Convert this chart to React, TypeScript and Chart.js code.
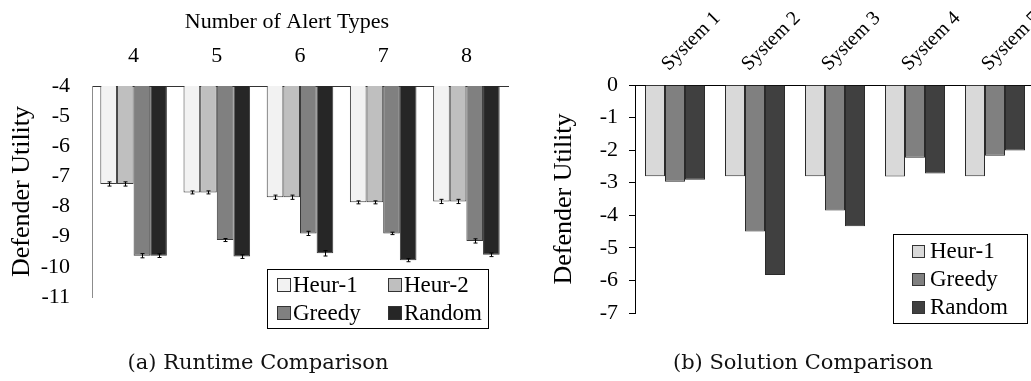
import React, { useEffect, useRef } from "react";
import { Chart, registerables } from "chart.js";

Chart.register(...registerables);

// ---------- Data: (a) Runtime Comparison ----------
const alertTypes = ["4", "5", "6", "7", "8"];
const alertAxisTitle = "Number of Alert Types";
const heur1A = [-7.25, -7.53, -7.69, -7.86, -7.83];
const heur2A = [-7.25, -7.53, -7.69, -7.86, -7.83];
const greedyA = [-9.63, -9.11, -8.89, -8.89, -9.14];
const randomA = [-9.63, -9.66, -9.55, -9.78, -9.6];
const heur1ErrA = [0.07, 0.05, 0.07, 0.05, 0.07];
const heur2ErrA = [0.07, 0.05, 0.07, 0.05, 0.07];
const greedyErrA = [0.07, 0.05, 0.07, 0.04, 0.07];
const randomErrA = [0.06, 0.06, 0.09, 0.05, 0.06];
const yTicksA = [-4, -5, -6, -7, -8, -9, -10, -11];

// ---------- Data: (b) Solution Comparison ----------
const systems = ["System 1", "System 2", "System 3", "System 4", "System 5"];
const heur1B = [-2.8, -2.8, -2.8, -2.81, -2.8];
const greedyB = [-2.97, -4.5, -3.85, -2.23, -2.17];
const randomB = [-2.91, -5.83, -4.34, -2.72, -2.01];
const yTicksB = [0, -1, -2, -3, -4, -5, -6, -7];

const yTitle = "Defender Utility";
const captionA = "(a) Runtime Comparison";
const captionB = "(b) Solution Comparison";

const SERIF = "'Liberation Serif', 'Times New Roman', serif";

const errorBarPlugin = {
  id: "errorBars",
  afterDatasetsDraw(chart: any) {
    const ctx = chart.ctx;
    const ys = chart.scales.y;
    chart.data.datasets.forEach((ds: any, i: number) => {
      if (!ds.errors) return;
      const meta = chart.getDatasetMeta(i);
      meta.data.forEach((bar: any, j: number) => {
        const v = ds.data[j];
        const e = ds.errors[j];
        const x = Math.round(bar.x) + 0.5;
        const y1 = ys.getPixelForValue(v + e);
        const y2 = ys.getPixelForValue(v - e);
        ctx.save();
        ctx.strokeStyle = "#000";
        ctx.lineWidth = 1;
        ctx.beginPath();
        ctx.moveTo(x, y1);
        ctx.lineTo(x, y2);
        ctx.moveTo(x - 2, y1);
        ctx.lineTo(x + 2, y1);
        ctx.moveTo(x - 2, y2);
        ctx.lineTo(x + 2, y2);
        ctx.stroke();
        ctx.restore();
      });
    });
  },
};

const boxLegendPlugin = {
  id: "boxLegend",
  afterDraw(chart: any, _args: any, o: any) {
    if (!o || !o.display) return;
    const ctx = chart.ctx;
    ctx.save();
    ctx.fillStyle = "#fff";
    ctx.fillRect(o.x, o.y, o.width, o.height);
    ctx.strokeStyle = "#000";
    ctx.lineWidth = 1;
    ctx.strokeRect(o.x + 0.5, o.y + 0.5, o.width, o.height);
    ctx.font = `${o.fontSize}px ${SERIF}`;
    ctx.textBaseline = "middle";
    ctx.textAlign = "left";
    chart.data.datasets.forEach((ds: any, i: number) => {
      const col = i % o.cols;
      const row = Math.floor(i / o.cols);
      const sx = o.x + o.padX + col * o.colWidth;
      const cy = o.y + o.padY + row * o.rowHeight + o.rowHeight / 2;
      const s = o.swatch;
      ctx.fillStyle = ds.backgroundColor;
      ctx.fillRect(sx, Math.round(cy - s / 2), s, s);
      ctx.strokeStyle = "#333";
      ctx.strokeRect(sx + 0.5, Math.round(cy - s / 2) + 0.5, s - 1, s - 1);
      ctx.fillStyle = "#000";
      ctx.fillText(ds.label, sx + s + o.gap, cy + 1);
    });
    ctx.restore();
  },
};

const topTitlePlugin = {
  id: "topTitle",
  afterDraw(chart: any, _args: any, o: any) {
    if (!o || !o.text) return;
    const ctx = chart.ctx;
    ctx.save();
    ctx.font = `${o.fontSize}px ${SERIF}`;
    ctx.fillStyle = "#000";
    ctx.textAlign = "center";
    ctx.textBaseline = "alphabetic";
    ctx.fillText(o.text, o.x, o.y);
    ctx.restore();
  },
};

function makeLeft(canvas: HTMLCanvasElement) {
  const mk = (label: string, data: number[], errors: number[], color: string) => ({
    label,
    data,
    errors,
    backgroundColor: color,
    borderColor: "#3a3a3a",
    borderWidth: 1,
    categoryPercentage: 0.8,
    barPercentage: 1.0,
  });
  return new Chart(canvas, {
    type: "bar",
    data: {
      labels: alertTypes,
      datasets: [
        mk("Heur-1", heur1A, heur1ErrA, "#f2f2f2"),
        mk("Heur-2", heur2A, heur2ErrA, "#bfbfbf"),
        mk("Greedy", greedyA, greedyErrA, "#808080"),
        mk("Random", randomA, randomErrA, "#262626"),
      ] as any,
    },
    options: {
      responsive: false,
      animation: false,
      layout: { padding: { left: 0, right: 12, top: 0, bottom: 84 } },
      plugins: {
        legend: { display: false },
        tooltip: { enabled: false },
        boxLegend: {
          display: true,
          x: 267, y: 269, width: 221, height: 59,
          cols: 2, colWidth: 111, rowHeight: 28, padX: 10, padY: 2,
          swatch: 14, gap: 2, fontSize: 23,
        },
        topTitle: { text: alertAxisTitle, x: 287, y: 28, fontSize: 22 },
      } as any,
      scales: {
        x: {
          position: "top",
          grid: { display: true, drawOnChartArea: false, drawTicks: false },
          border: { display: true, color: "#333", width: 1 },
          ticks: { color: "#000", font: { family: SERIF, size: 22 }, padding: 17 },
          afterFit: (s: any) => { s.height = 86; s.paddingLeft = 0; s.paddingRight = 0; },
        },
        y: {
          min: -11,
          max: -4,
          afterBuildTicks: (s: any) => { s.ticks = yTicksA.map((v) => ({ value: v })); },
          grid: { display: true, drawOnChartArea: false, drawTicks: false },
          border: { display: true, color: "#8c8c8c", width: 1 },
          ticks: {
            color: "#000",
            font: { family: SERIF, size: 22 },
            padding: 22,
            callback: (v: any) => String(v),
          },
          title: {
            display: true,
            text: yTitle,
            color: "#000",
            font: { family: SERIF, size: 26 },
            padding: { top: 7, bottom: 0 },
          },
          afterFit: (s: any) => { s.width = 92; s.paddingTop = 0; s.paddingBottom = 0; },
        },
      },
    } as any,
    plugins: [errorBarPlugin, boxLegendPlugin, topTitlePlugin],
  });
}

function makeRight(canvas: HTMLCanvasElement) {
  const mk = (label: string, data: number[], color: string) => ({
    label,
    data,
    backgroundColor: color,
    borderColor: "#2a2a2a",
    borderWidth: 1,
    categoryPercentage: 0.75,
    barPercentage: 1.0,
  });
  return new Chart(canvas, {
    type: "bar",
    data: {
      labels: systems,
      datasets: [
        mk("Heur-1", heur1B, "#d9d9d9"),
        mk("Greedy", greedyB, "#808080"),
        mk("Random", randomB, "#404040"),
      ] as any,
    },
    options: {
      responsive: false,
      animation: false,
      layout: { padding: { left: 0, right: 5, top: 0, bottom: 68 } },
      plugins: {
        legend: { display: false },
        tooltip: { enabled: false },
        boxLegend: {
          display: true,
          x: 373, y: 234, width: 134, height: 89,
          cols: 1, colWidth: 0, rowHeight: 28, padX: 19, padY: 3,
          swatch: 13, gap: 5, fontSize: 23,
        },
      } as any,
      scales: {
        x: {
          position: "top",
          grid: { display: true, drawOnChartArea: false, drawTicks: false },
          border: { display: true, color: "#000", width: 1 },
          ticks: {
            color: "#000",
            font: { family: SERIF, size: 20 },
            minRotation: 45,
            maxRotation: 45,
            padding: 9,
            labelOffset: 7,
          },
          afterFit: (s: any) => { s.height = 85; s.paddingLeft = 0; s.paddingRight = 0; },
        },
        y: {
          min: -7,
          max: 0,
          afterBuildTicks: (s: any) => { s.ticks = yTicksB.map((v) => ({ value: v })); },
          grid: { display: true, drawOnChartArea: false, drawTicks: true, tickLength: 6, color: "#000" },
          border: { display: true, color: "#000", width: 1 },
          ticks: {
            color: "#000",
            font: { family: SERIF, size: 22 },
            padding: 11,
            callback: (v: any) => String(v),
          },
          title: {
            display: true,
            text: yTitle,
            color: "#000",
            font: { family: SERIF, size: 26 },
            padding: { top: 29, bottom: 0 },
          },
          afterFit: (s: any) => { s.width = 115; s.paddingTop = 0; s.paddingBottom = 0; },
        },
      },
    } as any,
    plugins: [boxLegendPlugin],
  });
}

export default function App() {
  const leftRef = useRef<HTMLCanvasElement>(null);
  const rightRef = useRef<HTMLCanvasElement>(null);

  useEffect(() => {
    const a = makeLeft(leftRef.current!);
    const b = makeRight(rightRef.current!);
    return () => {
      a.destroy();
      b.destroy();
    };
  }, []);

  const captionStyle: React.CSSProperties = {
    position: "absolute",
    top: 353,
    height: 24,
    lineHeight: "19px",
    fontFamily: "'DejaVu Serif', serif",
    fontSize: 21,
    color: "#111",
    textAlign: "center",
    whiteSpace: "nowrap",
  };

  return (
    <div style={{ position: "absolute", left: 0, top: 0, width: 1031, height: 381, overflow: "hidden", background: "#fff" }}>
      <canvas ref={leftRef} width={520} height={381} style={{ position: "absolute", left: 0, top: 0 }} />
      <canvas ref={rightRef} width={520} height={381} style={{ position: "absolute", left: 520, top: 0 }} />
      <div style={{ ...captionStyle, left: 0, width: 516 }}>{captionA}</div>
      <div style={{ ...captionStyle, left: 575, width: 456 }}>{captionB}</div>
    </div>
  );
}
